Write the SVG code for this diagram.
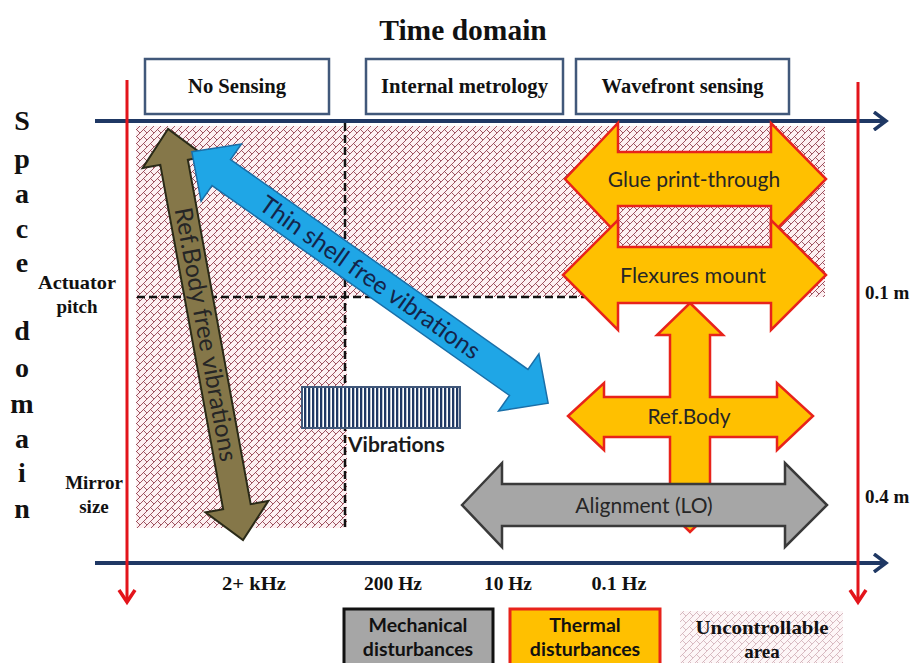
<svg xmlns="http://www.w3.org/2000/svg" width="911" height="663" viewBox="0 0 911 663">
<defs>
<pattern id="brick" width="7" height="7" patternUnits="userSpaceOnUse">
<rect width="7" height="7" fill="#fdf0f2"/>
<path d="M0,7 L7,0 M-1,1 L1,-1 M6,8 L8,6 M3.5,3.5 L7,7" stroke="#8e3747" stroke-width="0.85" fill="none"/>
</pattern>
<pattern id="brickLight" width="7" height="7" patternUnits="userSpaceOnUse">
<rect width="7" height="7" fill="#fdf6f7"/>
<path d="M0,7 L7,0 M-1,1 L1,-1 M6,8 L8,6 M3.5,3.5 L7,7" stroke="#caa2ab" stroke-width="0.7" fill="none"/>
</pattern>
<pattern id="stripes" width="4" height="10" patternUnits="userSpaceOnUse">
<rect width="4" height="10" fill="#ffffff"/>
<rect width="2.3" height="10" fill="#1f3864"/>
</pattern>
<marker id="navyHead" viewBox="0 0 20 20" refX="16" refY="10" markerWidth="20" markerHeight="20" markerUnits="userSpaceOnUse" orient="auto">
<path d="M4,1 L16,10 L4,19" fill="none" stroke="#1f3864" stroke-width="3.5"/>
</marker>
<marker id="redHead" viewBox="0 0 20 20" refX="16" refY="10" markerWidth="20" markerHeight="20" markerUnits="userSpaceOnUse" orient="auto">
<path d="M4,2 L16,10 L4,18" fill="none" stroke="#e3141b" stroke-width="3.5"/>
</marker>
</defs>
<style>
.serif{font-family:"Liberation Serif","Times New Roman",serif;font-weight:bold;fill:#111}
.sans{font-family:Lato,"Noto Sans","Liberation Sans",sans-serif;fill:#262626}
.hdr{fill:#ffffff;stroke:#41587a;stroke-width:2.5}
.orange{fill:#ffc000;stroke:#e8231b;stroke-width:2.5;stroke-linejoin:miter}
.dash{stroke:#111;stroke-width:2.5;stroke-dasharray:8 4;fill:none}
.navy{stroke:#1f3864;stroke-width:4;fill:none}
.red{stroke:#e3141b;stroke-width:3;fill:none}
</style>
<rect width="911" height="663" fill="#ffffff"/>

<g id="uncontrollable-region">
<path d="M136,126 H825 V297 H347 V528 H136 Z" fill="url(#brick)"/>
</g>

<g id="connectors">
<line class="dash" x1="345" y1="123" x2="345" y2="530"/>
<line class="dash" x1="137" y1="297" x2="592" y2="297"/>
<line class="navy" x1="95" y1="121" x2="886" y2="121" marker-end="url(#navyHead)"/>
<line class="navy" x1="95" y1="563" x2="886" y2="563" marker-end="url(#navyHead)"/>
<line class="red" x1="127" y1="80" x2="127" y2="602" marker-end="url(#redHead)"/>
<line class="red" x1="858" y1="82" x2="858" y2="602" marker-end="url(#redHead)"/>
</g>

<g id="title">
<text class="serif" x="463" y="40" font-size="29.5" text-anchor="middle">Time domain</text>
</g>

<g id="header-no-sensing">
<rect class="hdr" x="145" y="59" width="184" height="55"/>
<text class="serif" x="237" y="93" font-size="20" text-anchor="middle" textLength="98" lengthAdjust="spacingAndGlyphs">No Sensing</text>
</g>
<g id="header-internal-metrology">
<rect class="hdr" x="366" y="59" width="197" height="55"/>
<text class="serif" x="464.5" y="93" font-size="20" text-anchor="middle" textLength="167" lengthAdjust="spacingAndGlyphs">Internal metrology</text>
</g>
<g id="header-wavefront-sensing">
<rect class="hdr" x="576" y="59" width="213" height="55"/>
<text class="serif" x="682.5" y="93" font-size="20" text-anchor="middle" textLength="162" lengthAdjust="spacingAndGlyphs">Wavefront sensing</text>
</g>

<g id="space-domain-label" class="serif" font-size="28" text-anchor="middle">
<text x="22" y="130">S</text>
<text x="22" y="168">p</text>
<text x="22" y="203">a</text>
<text x="22" y="238">c</text>
<text x="22" y="272">e</text>
<text x="22" y="340">d</text>
<text x="22" y="377">o</text>
<text x="22" y="413">m</text>
<text x="22" y="448">a</text>
<text x="22" y="482">i</text>
<text x="22" y="518">n</text>
</g>

<g id="axis-labels" class="serif" font-size="19">
<text x="77" y="289" text-anchor="middle" textLength="78" lengthAdjust="spacingAndGlyphs">Actuator</text>
<text x="77" y="313" text-anchor="middle">pitch</text>
<text x="94" y="489" text-anchor="middle">Mirror</text>
<text x="94" y="513" text-anchor="middle">size</text>
<text x="865" y="299">0.1 m</text>
<text x="865" y="503">0.4 m</text>
<text x="254" y="590" text-anchor="middle" textLength="64" lengthAdjust="spacingAndGlyphs">2+ kHz</text>
<text x="393" y="590" text-anchor="middle" textLength="58" lengthAdjust="spacingAndGlyphs">200 Hz</text>
<text x="508" y="590" text-anchor="middle" textLength="48" lengthAdjust="spacingAndGlyphs">10 Hz</text>
<text x="619" y="590" text-anchor="middle" textLength="55" lengthAdjust="spacingAndGlyphs">0.1 Hz</text>
</g>

<g id="ref-body-free-vibrations" transform="translate(205.5,334.5) rotate(79.66)">
<path d="M-209,0 L-175,-32 L-175,-14 L175,-14 L175,-32 L209,0 L175,32 L175,14 L-175,14 L-175,32 Z" fill="#857749" stroke="#2a2a18" stroke-width="2"/>
<text class="sans" x="0" y="8" font-size="24.5" text-anchor="middle" fill="#111">Ref.Body free vibrations</text>
</g>

<g id="thin-shell-free-vibrations" transform="translate(370,277.5) rotate(35.2)">
<path d="M-218,0 L-182,-35 L-182,-16 L182,-16 L182,-35 L218,0 L182,35 L182,16 L-182,16 L-182,35 Z" fill="#1fa6e6" stroke="#1a6fa8" stroke-width="1.5"/>
<text class="sans" x="0" y="8.5" font-size="24.5" text-anchor="middle" style="fill:#14244a">Thin shell free vibrations</text>
</g>

<g id="vibrations">
<rect x="302" y="387" width="158" height="41" fill="url(#stripes)" stroke="#41587a" stroke-width="2"/>
<text class="sans" x="348" y="452" font-size="21" font-weight="bold" style="fill:#1a1a1a">Vibrations</text>
</g>

<g id="glue-print-through">
<path class="orange" d="M565,179 L618,123 L618,152 L771,152 L771,123 L826,179 L771,235 L771,206 L618,206 L618,235 Z"/>
<text class="sans" x="694" y="187" font-size="21" text-anchor="middle">Glue print-through</text>
</g>

<g id="ref-body">
<path class="orange" d="M690,303 L723,335 L710,335 L710,397 L777,397 L777,383 L813,416 L777,450 L777,437 L710,437 L710,500 L723,500 L690,532 L657,500 L670,500 L670,437 L604,437 L604,450 L568,416 L604,383 L604,397 L670,397 L670,335 L657,335 Z"/>
<text class="sans" x="689" y="424" font-size="21" text-anchor="middle">Ref.Body</text>
</g>

<g id="flexures-mount">
<path class="orange" d="M563,275 L618,220 L618,247 L771,247 L771,220 L826,275 L771,330 L771,303 L618,303 L618,330 Z"/>
<text class="sans" x="693" y="283" font-size="21.5" text-anchor="middle">Flexures mount</text>
</g>

<g id="alignment-lo">
<path d="M462,505 L502,463 L502,484 L785,484 L785,463 L827,505 L785,547 L785,526 L502,526 L502,547 Z" fill="#a6a6a6" stroke="#3a3a3a" stroke-width="2.5"/>
<text class="sans" x="644" y="513" font-size="21" text-anchor="middle">Alignment (LO)</text>
</g>

<g id="legend-mechanical">
<rect x="344" y="609" width="149" height="60" fill="#a6a6a6" stroke="#111" stroke-width="3"/>
<text class="sans" x="418" y="632" font-size="19.5" font-weight="bold" text-anchor="middle" style="fill:#111">Mechanical</text>
<text class="sans" x="418" y="656" font-size="19.5" font-weight="bold" text-anchor="middle" style="fill:#111">disturbances</text>
</g>
<g id="legend-thermal">
<rect x="510" y="609" width="150" height="60" fill="#ffc000" stroke="#e8231b" stroke-width="3"/>
<text class="sans" x="585" y="632" font-size="19.5" font-weight="bold" text-anchor="middle" style="fill:#111">Thermal</text>
<text class="sans" x="585" y="656" font-size="19.5" font-weight="bold" text-anchor="middle" style="fill:#111">disturbances</text>
</g>
<g id="legend-uncontrollable">
<rect x="680" y="611" width="163" height="55" fill="url(#brickLight)"/>
<text class="serif" x="762" y="634" font-size="19" text-anchor="middle" textLength="133" lengthAdjust="spacingAndGlyphs">Uncontrollable</text>
<text class="serif" x="762" y="658" font-size="19" text-anchor="middle">area</text>
</g>
</svg>
